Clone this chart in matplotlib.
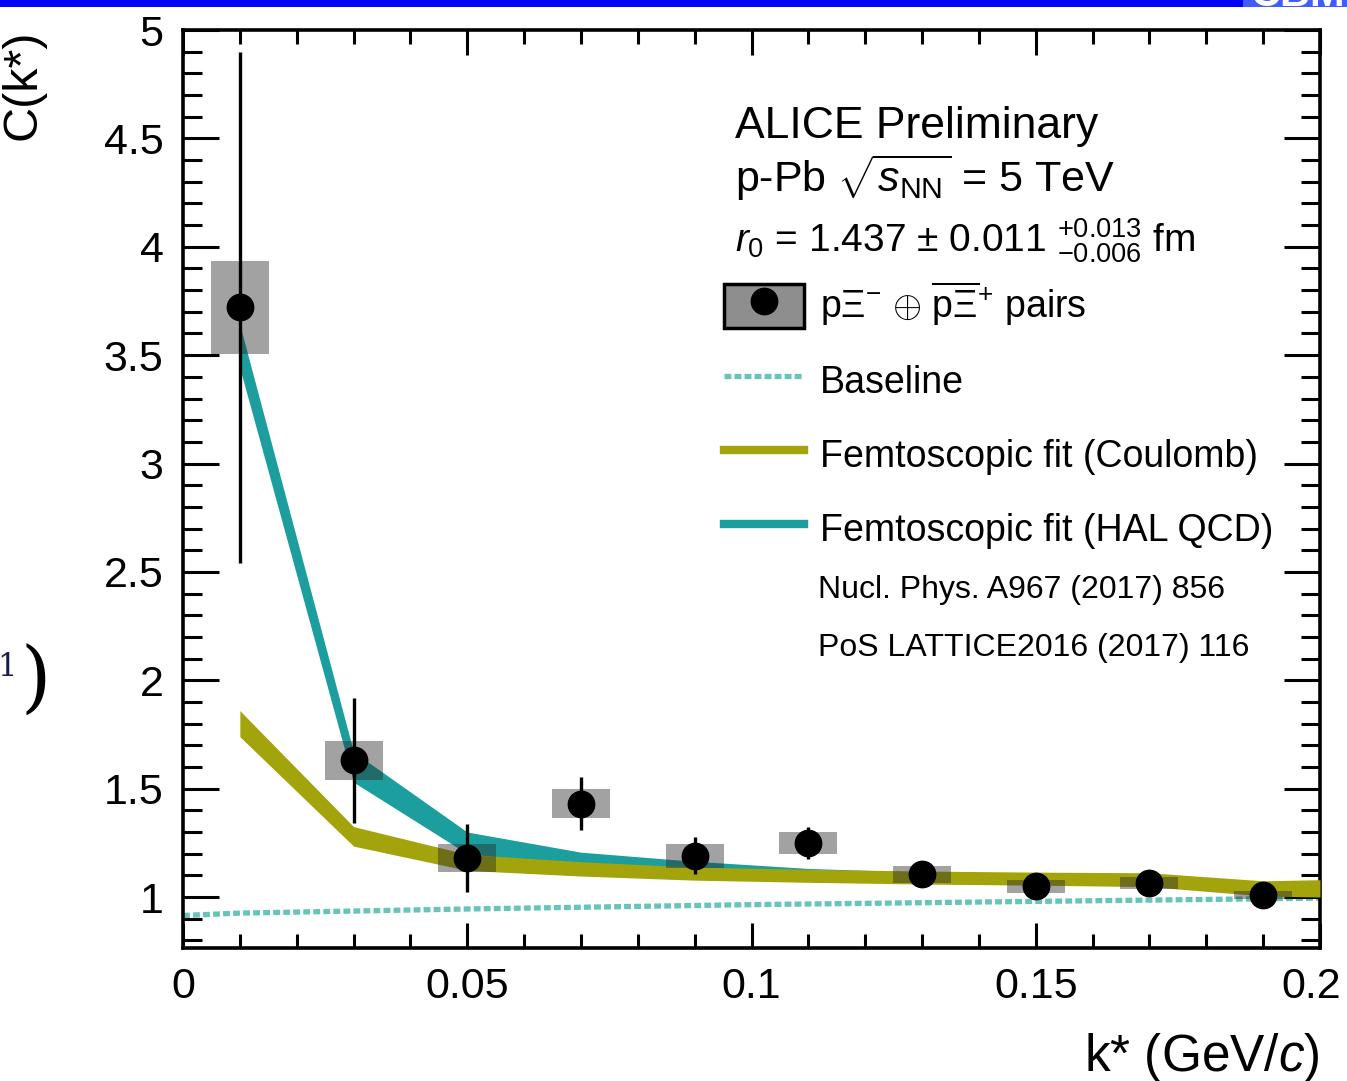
import matplotlib
matplotlib.use("Agg")
import matplotlib.pyplot as plt
import matplotlib.transforms as mtrans
from matplotlib.lines import Line2D
from matplotlib.patches import Rectangle
from matplotlib.ticker import MultipleLocator, FuncFormatter
import numpy as np

# data points (bin centres), values, stat and syst errors
k_data = [0.01, 0.03, 0.05, 0.07, 0.09, 0.11, 0.13, 0.15, 0.17, 0.19]
c_data = [3.72, 1.63, 1.18, 1.43, 1.19, 1.25, 1.105, 1.05, 1.065, 1.01]
stat_err = [1.18, 0.29, 0.155, 0.122, 0.085, 0.074, 0.035, 0.03, 0.03, 0.025]
syst_err = [0.215, 0.09, 0.065, 0.067, 0.055, 0.05, 0.04, 0.03, 0.028, 0.02]
box_half = 0.0051

# femtoscopic fits (bands)
k_fit = [0.01, 0.03, 0.05, 0.07, 0.09, 0.11, 0.13, 0.15, 0.17, 0.19, 0.2]
coul_c = [1.80, 1.28, 1.16, 1.13, 1.108, 1.098, 1.09, 1.085, 1.08, 1.04, 1.04]
coul_w = [0.06, 0.045, 0.037, 0.033, 0.03, 0.03, 0.03, 0.03, 0.032, 0.035, 0.04]
hal_c = [3.54, 1.60, 1.25, 1.175, 1.14, 1.112, 1.095, 1.085, 1.08, 1.04, 1.04]
hal_w = [0.1, 0.07, 0.05, 0.032, 0.025, 0.02, 0.02, 0.02, 0.02, 0.02, 0.02]

# baseline
k_base = [0.0, 0.01, 0.05, 0.1, 0.15, 0.2]
c_base = [0.915, 0.926, 0.945, 0.965, 0.98, 0.995]

OLIVE = "#a3a30c"
TEAL = "#1c9e9e"
BASE = "#66c4b9"

plt.rcParams["font.family"] = ["Liberation Sans", "DejaVu Sans"]
plt.rcParams["mathtext.fontset"] = "custom"
plt.rcParams["mathtext.rm"] = "Liberation Sans"
plt.rcParams["mathtext.it"] = "Liberation Sans:italic"
plt.rcParams["mathtext.bf"] = "Liberation Sans:bold"

W, H = 1347, 1081
fig = plt.figure(figsize=(W / 100, H / 100), dpi=100)

x0, x1, y0, y1 = 183, 1320, 30, 948
ax = fig.add_axes([x0 / W, 1 - y1 / H, (x1 - x0) / W, (y1 - y0) / H])

ax.plot(k_base, c_base, color=BASE, lw=3.8, ls=(0, (1.3, 0.6)), zorder=1)

kf = np.array(k_fit)
ax.fill_between(kf, np.array(hal_c) - hal_w, np.array(hal_c) + hal_w,
                color=TEAL, lw=0, zorder=2)
ax.fill_between(kf, np.array(coul_c) - coul_w, np.array(coul_c) + coul_w,
                color=OLIVE, lw=0, zorder=3)

for k, c, s in zip(k_data, c_data, syst_err):
    ax.add_patch(Rectangle((k - box_half, c - s), 2 * box_half, 2 * s,
                           facecolor="#282828", alpha=0.43, lw=0, zorder=4))
ax.errorbar(k_data, c_data, yerr=stat_err, fmt="none", ecolor="black",
            elinewidth=2.4, capsize=0, zorder=5)
ax.plot(k_data, c_data, "o", color="black", ms=19, zorder=6)

ax.set_xlim(0, 0.2)
ax.set_ylim(0.765, 5)
ax.xaxis.set_major_locator(MultipleLocator(0.05))
ax.xaxis.set_minor_locator(MultipleLocator(0.01))
ax.yaxis.set_major_locator(MultipleLocator(0.5))
ax.yaxis.set_minor_locator(MultipleLocator(0.1))
fmt = FuncFormatter(lambda v, p: f"{v:g}")
ax.xaxis.set_major_formatter(fmt)
ax.yaxis.set_major_formatter(fmt)
ax.tick_params(which="both", direction="in", top=True, right=True,
               width=2.2, colors="black", labelsize=31)
ax.tick_params(axis="x", which="major", length=18, pad=14)
ax.tick_params(axis="x", which="minor", length=10)
ax.tick_params(axis="y", which="major", length=26, pad=14)
ax.tick_params(axis="y", which="minor", length=13.5)
for sp in ax.spines.values():
    sp.set_linewidth(2.6)

# last x tick label sits at the figure edge: shift it a few pixels left
locs = list(ax.xaxis.get_majorticklocs())
ticks = ax.xaxis.get_major_ticks(len(locs))
for loc, tick in zip(locs, ticks):
    if abs(loc - 0.2) < 1e-9:
        tick.label1.set_transform(tick.label1.get_transform()
                                  + mtrans.ScaledTranslation(-6 / 72, 0, fig.dpi_scale_trans))

ax.set_xlabel(r"k* (GeV/$c$)", fontsize=37, loc="right")
ax.xaxis.set_label_coords(1.0, -0.09)
ax.set_ylabel("C(k*)", fontsize=35, loc="top")
ax.yaxis.set_label_coords(-0.121, 1.0)

tx = (735 - x0) / (x1 - x0)
def ay(py):
    return (y1 - py) / (y1 - y0)

ax.text(tx, ay(138), "ALICE Preliminary", transform=ax.transAxes,
        fontsize=32, va="baseline")
ax.text(tx, ay(192), r"p-Pb $\sqrt{s_{\rm NN}}$ = 5 TeV", transform=ax.transAxes,
        fontsize=31, va="baseline")
ax.text(tx, ay(252), r"$r_0$ = 1.437 $\pm$ 0.011 $^{+0.013}_{-0.006}$ fm",
        transform=ax.transAxes, fontsize=28, va="baseline")

h_box = (Rectangle((0, 0), 1, 1, facecolor="#8e8e8e", edgecolor="black", lw=2.5),
         Line2D([], [], marker="o", color="black", ms=19, ls="none"))
h_base = Line2D([], [], color=BASE, lw=3.8, ls=(0, (1.3, 0.6)))
h_coul = Line2D([], [], color=OLIVE, lw=6)
h_hal = Line2D([], [], color=TEAL, lw=6)
labels = [r"p$\Xi^{-}$ $\oplus$ $\overline{\rm p\Xi}^{+}$ pairs", "Baseline",
          "Femtoscopic fit (Coulomb)", "Femtoscopic fit (HAL QCD)"]
ax.legend([h_box, h_base, h_coul, h_hal], labels, loc="upper left",
          bbox_to_anchor=((724 - x0) / (x1 - x0), ay(280)), frameon=False,
          fontsize=27, borderpad=0, borderaxespad=0, handlelength=2.13,
          handleheight=1.4, handletextpad=0.43, labelspacing=0.82)

rx = (818 - x0) / (x1 - x0)
ax.text(rx, ay(598), "Nucl. Phys. A967 (2017) 856", transform=ax.transAxes,
        fontsize=23, va="baseline")
ax.text(rx, ay(656), "PoS LATTICE2016 (2017) 116", transform=ax.transAxes,
        fontsize=23, va="baseline")

# slide fragments: blue header bar and a bracket on the left
bar = fig.add_axes([0, 1 - 7 / H, 1, 7 / H])
bar.set_xlim(0, W)
bar.set_ylim(0, 7)
bar.set_facecolor("#0000ff")
bar.set_xticks([])
bar.set_yticks([])
for sp in bar.spines.values():
    sp.set_visible(False)
bar.add_patch(Rectangle((1243, 0), W - 1243, 7, color="#3f5cff", lw=0))
bar.text(1250, 1, "CBM", color="white", fontsize=30, fontweight="bold",
         va="baseline", clip_on=True)

fig.text(17 / W, 1 - 668 / H, "1", fontsize=22, ha="right", va="center",
         color="#1a1a50", family="DejaVu Serif")
fig.text(36 / W, 1 - 682 / H, ")", fontsize=56, ha="center", va="center",
         color="black", family="DejaVu Serif")

fig.savefig("out.png", dpi=100, facecolor="white")
